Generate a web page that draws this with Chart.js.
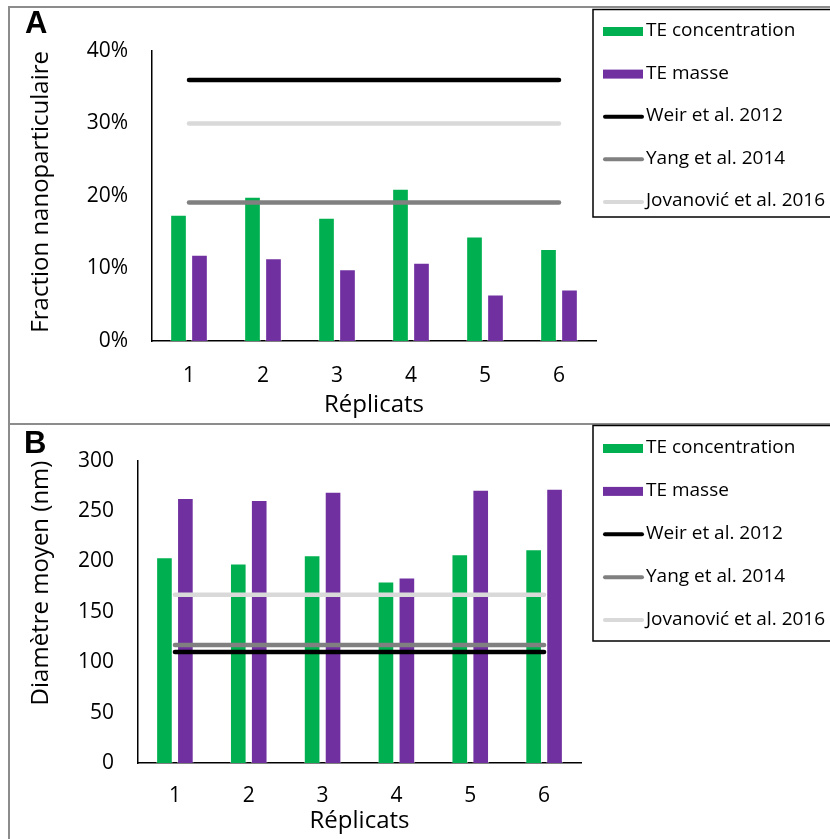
<!DOCTYPE html>
<html>
<head>
<meta charset="utf-8">
<script src="https://cdn.jsdelivr.net/npm/chart.js"></script>
<style>
  body { margin: 0; background: #fff; }
  #page { position: relative; width: 830px; height: 839px; overflow: hidden; background: #fff; }
  .rule { position: absolute; background: #8c8c8c; }
  .panel-tag { position: absolute; font-family: "Liberation Sans", Arial, sans-serif; font-weight: bold; font-size: 31px; line-height: 31px; color: #000; }
  canvas { position: absolute; left: 0; }
</style>
</head>
<body>
<div id="page">
  <div class="rule" style="left:8px; top:6px; width:822px; height:2px;"></div>
  <div class="rule" style="left:8px; top:423px; width:822px; height:2px;"></div>
  <div class="rule" style="left:8px; top:6px; width:2px; height:833px;"></div>
  <canvas id="chartA" width="830" height="424" style="top:0px;"></canvas>
  <canvas id="chartB" width="830" height="415" style="top:424px;"></canvas>
  <div class="panel-tag" style="left:25px; top:7px;">A</div>
  <div class="panel-tag" style="left:24px; top:427px;">B</div>
</div>
<script>
// catégories (réplicats)
const replicats = ['1', '2', '3', '4', '5', '6'];

// A : fraction nanoparticulaire (%)
const fractionConcentration = [17.4, 19.9, 17.0, 21.0, 14.4, 12.7];
const fractionMasse = [11.9, 11.4, 9.9, 10.8, 6.4, 7.1];
const fractionWeir = [36, 36, 36, 36, 36, 36];
const fractionYang = [19.1, 19.1, 19.1, 19.1, 19.1, 19.1];
const fractionJovanovic = [30, 30, 30, 30, 30, 30];

// B : diamètre moyen (nm)
const diametreConcentration = [204, 198, 206, 180, 207, 212];
const diametreMasse = [263, 261, 269, 184, 271, 272];
const diametreWeir = [110, 110, 110, 110, 110, 110];
const diametreYang = [117, 117, 117, 117, 117, 117];
const diametreJovanovic = [167, 167, 167, 167, 167, 167];

const seriesLabels = ['TE concentration', 'TE masse', 'Weir et al. 2012', 'Yang et al. 2014', 'Jovanović et al. 2016'];
const seriesColors = ['#00B050', '#7030A0', '#000000', '#808080', '#D9D9D9'];

const FONT = '"Open Sans", "Noto Sans", sans-serif';

// légende encadrée à droite (comme Excel)
const boxLegend = {
    id: 'boxLegend',
    afterDraw(chart, args, opts) {
        const ctx = chart.ctx;
        ctx.save();
        ctx.strokeStyle = '#000';
        ctx.lineWidth = 1.5;
        ctx.strokeRect(opts.left, opts.top, 400, opts.height);
        ctx.font = '19px ' + FONT;
        ctx.textBaseline = 'middle';
        ctx.textAlign = 'left';
        chart.data.datasets.forEach((ds, i) => {
            const y = opts.top + opts.first + i * opts.step;
            if (ds.type === 'line') {
                ctx.strokeStyle = ds.borderColor;
                ctx.lineWidth = 4;
                ctx.lineCap = 'round';
                ctx.beginPath();
                ctx.moveTo(605, y);
                ctx.lineTo(642, y);
                ctx.stroke();
            } else {
                ctx.fillStyle = ds.backgroundColor;
                ctx.fillRect(603, y - 4.5, 40, 9);
            }
            ctx.fillStyle = '#000';
            ctx.fillText(ds.label, 646, y - 1);
        });
        ctx.restore();
    }
};

function buildDatasets(values) {
    return values.map((data, i) => {
        if (i < 2) {
            return {
                type: 'bar',
                label: seriesLabels[i],
                data: data,
                backgroundColor: seriesColors[i],
                borderColor: 'rgba(255,255,255,0.45)',
                borderWidth: 1,
                categoryPercentage: 0.567,
                barPercentage: 0.795,
                order: 1
            };
        }
        return {
            type: 'line',
            label: seriesLabels[i],
            data: data,
            borderColor: seriesColors[i],
            backgroundColor: seriesColors[i],
            borderWidth: 4.5,
            borderCapStyle: 'round',
            pointRadius: 0,
            fill: false,
            order: 0
        };
    });
}

function drawPanel(canvas, cfg) {
    return new Chart(canvas.getContext('2d'), {
        type: 'bar',
        data: {
            labels: replicats,
            datasets: buildDatasets(cfg.values)
        },
        options: {
            responsive: false,
            animation: false,
            layout: { padding: { left: 0, top: cfg.top, right: cfg.right, bottom: 0 } },
            plugins: {
                legend: { display: false },
                tooltip: { enabled: false },
                boxLegend: cfg.legend
            },
            scales: {
                x: {
                    grid: { display: false, drawTicks: false },
                    border: { color: '#000', width: 1.5 },
                    ticks: { color: '#000', padding: cfg.xPad, font: { family: FONT, size: 21 } },
                    title: {
                        display: true,
                        text: 'Réplicats',
                        color: '#000',
                        font: { family: FONT, size: 24 },
                        padding: { top: 0, bottom: cfg.xTitlePad }
                    },
                    afterFit: (scale) => { scale.height = cfg.xHeight; }
                },
                y: {
                    min: 0,
                    max: cfg.max,
                    grid: { display: false, drawTicks: false },
                    border: { color: '#000', width: 1.5 },
                    ticks: {
                        stepSize: cfg.step,
                        color: '#000',
                        padding: 24,
                        font: { family: FONT, size: 21 },
                        callback: cfg.tickFormat
                    },
                    title: {
                        display: true,
                        text: cfg.yTitle,
                        align: 'end',
                        color: '#000',
                        font: { family: FONT, size: 24 },
                        padding: { top: 27, bottom: 0 }
                    },
                    afterFit: (scale) => { scale.width = cfg.yWidth; }
                }
            }
        },
        plugins: [boxLegend]
    });
}

drawPanel(document.getElementById('chartA'), {
    values: [fractionConcentration, fractionMasse, fractionWeir, fractionYang, fractionJovanovic],
    max: 40,
    step: 10,
    tickFormat: (v) => v + '%',
    yTitle: 'Fraction nanoparticulaire',
    top: 51,
    right: 234,
    yWidth: 152,
    xHeight: 83,
    xPad: 22,
    xTitlePad: 4,
    legend: { left: 593, top: 9.5, height: 207.5, first: 22, step: 42.6 }
});

drawPanel(document.getElementById('chartB'), {
    values: [diametreConcentration, diametreMasse, diametreWeir, diametreYang, diametreJovanovic],
    max: 300,
    step: 50,
    tickFormat: (v) => v,
    yTitle: 'Diamètre moyen (nm)',
    top: 34,
    right: 249,
    yWidth: 138,
    xHeight: 76,
    xPad: 20,
    xTitlePad: 3,
    legend: { left: 593, top: 1.5, height: 215.5, first: 23, step: 42.9 }
});
</script>
</body>
</html>
